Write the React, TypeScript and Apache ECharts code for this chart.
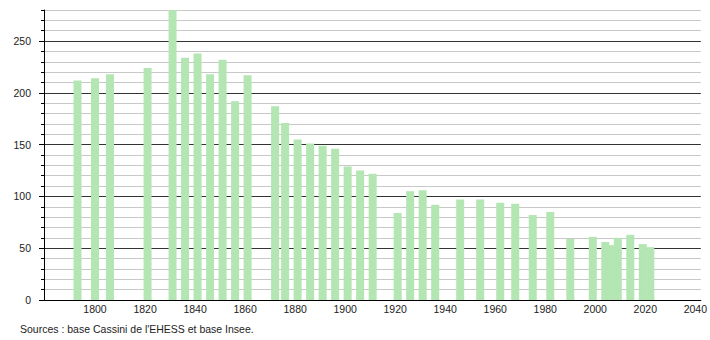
import React, { useEffect, useRef } from "react";
import * as echarts from "echarts";

const years = [1793, 1800, 1806, 1821, 1831, 1836, 1841, 1846, 1851, 1856, 1861, 1872, 1876, 1881, 1886, 1891, 1896, 1901, 1906, 1911, 1921, 1926, 1931, 1936, 1946, 1954, 1962, 1968, 1975, 1982, 1990, 1999, 2004, 2007, 2009, 2014, 2019, 2022];
const population = [212, 214, 218, 224, 280, 234, 238, 218, 232, 192, 217, 187, 171, 155, 151, 149, 146, 129, 125, 122, 84, 105, 106, 92, 97, 97, 94, 93, 82, 85, 59, 61, 56, 53, 60, 63, 54, 51];
const xTickLabels = [1800, 1820, 1840, 1860, 1880, 1900, 1920, 1940, 1960, 1980, 2000, 2020, 2040];
const yMajorTicks = [0, 50, 100, 150, 200, 250];
const sourceText = "Sources : base Cassini de l'EHESS et base Insee.";

export default function App() {
  const ref = useRef<HTMLDivElement>(null);
  useEffect(() => {
    if (!ref.current) return;
    const chart = echarts.init(ref.current, null, { renderer: "svg" });
    const font = "Liberation Sans, Arial, sans-serif";
    chart.setOption({
      animation: false,
      backgroundColor: "#ffffff",
      grid: { left: 44, right: 9, top: 10, bottom: 40, containLabel: false },
      xAxis: {
        type: "value",
        min: 1779.6,
        max: 2042.2,
        axisLine: { show: true, lineStyle: { color: "#000", width: 1 } },
        axisTick: { show: false },
        splitLine: { show: false },
        axisLabel: {
          customValues: xTickLabels,
          margin: 3,
          fontSize: 10.5,
          color: "#222",
          fontFamily: font,
          formatter: (v: number) => String(Math.round(v)),
        },
      },
      yAxis: [
        {
          type: "value",
          min: 0,
          max: 280,
          interval: 10,
          axisLine: { show: true, lineStyle: { color: "#000", width: 1 } },
          axisTick: { show: true, length: 3, lineStyle: { color: "#000" } },
          axisLabel: {
            margin: 13,
            fontSize: 10.5,
            color: "#222",
            fontFamily: font,
            formatter: (v: number) => (yMajorTicks.indexOf(v) >= 0 ? String(v) : ""),
          },
          splitLine: {
            show: true,
            showMinLine: true,
            showMaxLine: true,
            lineStyle: { color: ["#333333", "#c8c8c8", "#c8c8c8", "#c8c8c8", "#c8c8c8"], width: 1 },
          },
        },
        {
          type: "value",
          min: 0,
          max: 280,
          position: "left",
          axisLine: { show: false },
          axisLabel: { show: false },
          splitLine: { show: false },
          axisTick: { show: true, length: 5, customValues: yMajorTicks, lineStyle: { color: "#000" } },
        },
      ],
      series: [
        {
          type: "bar",
          data: years.map((y, i) => [y, population[i]]),
          barWidth: 8,
          itemStyle: { color: "#b3e6b3" },
          clip: true,
        },
      ],
      graphic: [
        {
          type: "text",
          left: 20,
          top: 323,
          style: { text: sourceText, fontSize: 10.5, fill: "#222", fontFamily: font },
        },
      ],
    });
    return () => chart.dispose();
  }, []);
  return <div ref={ref} style={{ position: "fixed", left: 0, top: 0, width: 710, height: 340 }} />;
}
